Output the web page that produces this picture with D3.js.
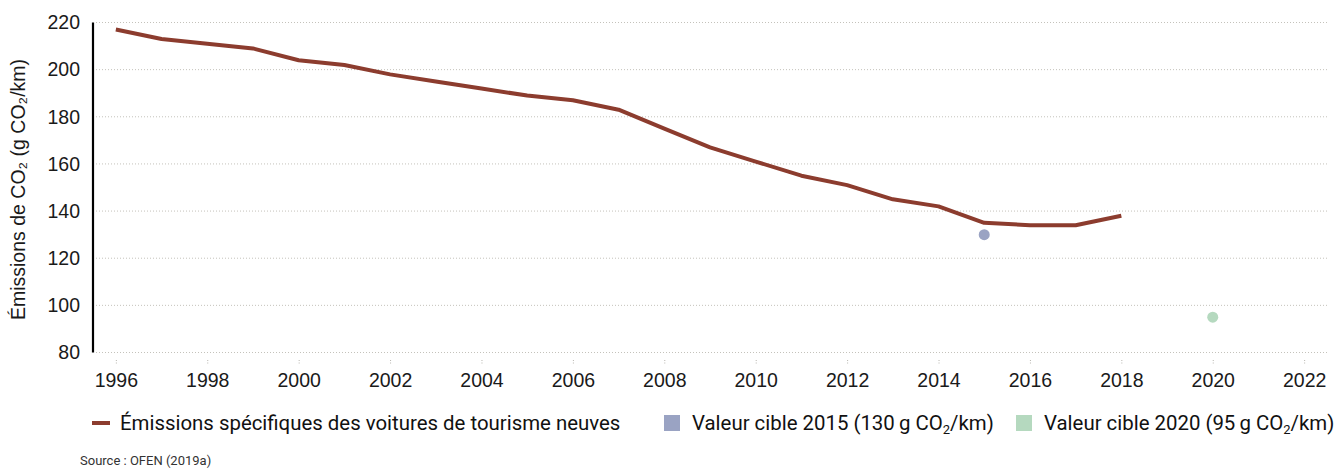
<!DOCTYPE html>
<html>
<head>
<meta charset="utf-8">
<script src="https://cdn.jsdelivr.net/npm/d3@7"></script>
<style>
  html, body { margin: 0; padding: 0; background: #fff; }
  svg { display: block; }
</style>
</head>
<body>
<svg id="chart" width="1336" height="468"></svg>
<script>
// Average CO2 emissions of new passenger cars, g CO2/km
const years = [1996, 1997, 1998, 1999, 2000, 2001, 2002, 2003, 2004, 2005, 2006, 2007,
               2008, 2009, 2010, 2011, 2012, 2013, 2014, 2015, 2016, 2017, 2018];
const emissions = [217, 213, 211, 209, 204, 202, 198, 195, 192, 189, 187, 183,
                   175, 167, 161, 155, 151, 145, 142, 135, 134, 134, 138];

// Legal target values
const targetYears = [2015, 2020];
const targetValues = [130, 95];
const targetColors = ["#9aa3c3", "#b5d9bf"];

const xTicks = [1996, 1998, 2000, 2002, 2004, 2006, 2008, 2010, 2012, 2014, 2016, 2018, 2020, 2022];
const yTicks = [80, 100, 120, 140, 160, 180, 200, 220];

const lineColor = "#8c3c2e";
const axisFont = "'Liberation Sans', Arial, sans-serif";
const legendFont = "Roboto, 'Noto Sans', sans-serif";
const svg = d3.select("#chart");

const x = d3.scaleLinear().domain([1995.5, 2022.5]).range([93, 1327]);
const y = d3.scaleLinear().domain([80, 220]).range([352.5, 22.5]);

// dotted horizontal grid
svg.append("g")
  .selectAll("line")
  .data(yTicks)
  .join("line")
  .attr("x1", 96).attr("x2", 1327)
  .attr("y1", d => y(d)).attr("y2", d => y(d))
  .attr("stroke", "#c4c2bb")
  .attr("stroke-width", 1)
  .attr("stroke-dasharray", "1,2");

// y axis
const yAxis = svg.append("g")
  .attr("transform", "translate(93,0)")
  .call(d3.axisLeft(y).tickValues(yTicks).tickSize(0).tickPadding(13).tickFormat(d3.format("d")));
yAxis.select(".domain").attr("stroke", "#000").attr("stroke-width", 2.2).attr("d", `M0,${y(220)}V${y(80)}`);
yAxis.selectAll("text")
  .attr("font-family", axisFont)
  .attr("font-size", 19.5)
  .attr("fill", "#1a1a1a");

// x axis: short dotted ticks below the plot
const xAxis = svg.append("g")
  .attr("transform", "translate(0,360)")
  .call(d3.axisBottom(x).tickValues(xTicks).tickSize(5).tickPadding(8).tickFormat(d3.format("d")));
xAxis.select(".domain").remove();
xAxis.selectAll(".tick line").attr("stroke", "#b8b6b0").attr("stroke-dasharray", "1,1.5");
xAxis.selectAll("text")
  .attr("font-family", axisFont)
  .attr("font-size", 19.5)
  .attr("fill", "#1a1a1a");

// y axis title
svg.append("text")
  .attr("transform", `translate(25,${(y(220) + y(80)) / 2 + 2}) rotate(-90)`)
  .attr("text-anchor", "middle")
  .attr("font-family", axisFont)
  .attr("font-size", 19.5)
  .attr("fill", "#1a1a1a")
  .text("Émissions de CO₂ (g CO₂/km)");

// emissions line
const series = years.map((yr, i) => ({ year: yr, value: emissions[i] }));
svg.append("path")
  .datum(series)
  .attr("fill", "none")
  .attr("stroke", lineColor)
  .attr("stroke-width", 4)
  .attr("stroke-linejoin", "round")
  .attr("d", d3.line().x(d => x(d.year)).y(d => y(d.value)));

// target points
svg.append("g")
  .selectAll("circle")
  .data(targetYears.map((yr, i) => ({ year: yr, value: targetValues[i], color: targetColors[i] })))
  .join("circle")
  .attr("cx", d => x(d.year))
  .attr("cy", d => y(d.value))
  .attr("r", 5.5)
  .attr("fill", d => d.color);

// legend
const legend = svg.append("g").attr("font-family", legendFont).attr("font-size", 20.4).attr("fill", "#111");

legend.append("line")
  .attr("x1", 92).attr("x2", 110).attr("y1", 423).attr("y2", 423)
  .attr("stroke", lineColor).attr("stroke-width", 4);
legend.append("text").attr("x", 120).attr("y", 430)
  .text("Émissions spécifiques des voitures de tourisme neuves");

const targetLabels = [
  { x: 664, pre: "Valeur cible 2015 (130\u2009g CO", post: "/km)" },
  { x: 1016, pre: "Valeur cible 2020 (95\u2009g CO", post: "/km)" }
];
targetLabels.forEach((lab, i) => {
  legend.append("rect")
    .attr("x", lab.x).attr("y", 415).attr("width", 16).attr("height", 16)
    .attr("fill", targetColors[i]);
  const t = legend.append("text").attr("x", lab.x + 28).attr("y", 430);
  t.append("tspan").text(lab.pre);
  t.append("tspan").attr("font-size", 13).attr("dy", 4).text("2");
  t.append("tspan").attr("dy", -4).text(lab.post);
});

// source note
svg.append("text")
  .attr("x", 80).attr("y", 465)
  .attr("font-family", legendFont)
  .attr("font-size", 13)
  .attr("fill", "#333")
  .text("Source : OFEN (2019a)");
</script>
</body>
</html>
